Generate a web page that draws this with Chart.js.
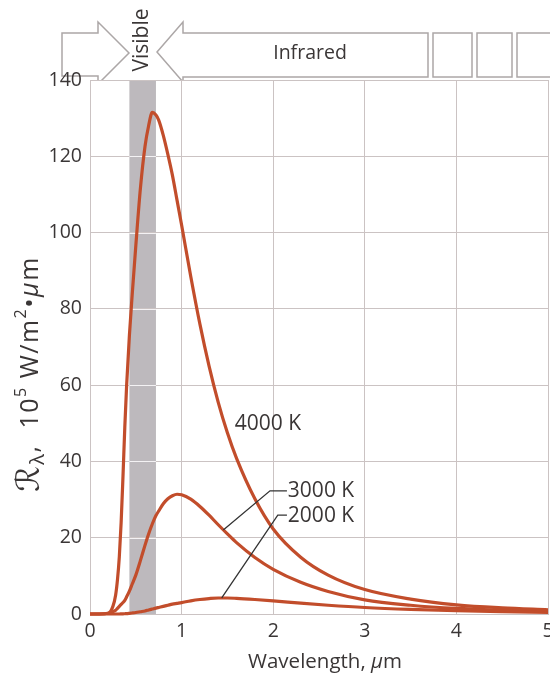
<!DOCTYPE html>
<html>
<head>
<meta charset="utf-8">
<script src="https://cdn.jsdelivr.net/npm/chart.js@4"></script>
<style>
  html, body { margin: 0; padding: 0; background: #fff; }
  #wrap { width: 550px; height: 674px; }
</style>
</head>
<body>
<div id="wrap"><canvas id="myChart" width="550" height="674"></canvas></div>
<script>
// wavelength in micrometres
var wavelength = [0, 0.1, 0.2, 0.25, 0.28, 0.3, 0.32, 0.34, 0.36, 0.38, 0.4, 0.43, 0.46, 0.5, 0.55, 0.6,
  0.64, 0.68, 0.72, 0.75, 0.8, 0.85, 0.9, 0.95, 1.0, 1.1, 1.2, 1.3, 1.4, 1.5, 1.6, 1.8, 2.0, 2.3, 2.6,
  3.0, 3.5, 4.0, 4.5, 5.0];

// radiancy, 10^5 W/m^2.um
var r4000 = [0, 0, 0.2, 2, 5, 9, 15, 24, 36, 49, 60, 73, 83.5, 96.5, 111.5, 122.5,
  128, 131.5, 130.8, 129.5, 125.5, 120.5, 115, 108.5, 102, 88.5, 76, 65, 55.5, 47.5, 40.8, 30.2, 22.3, 14.9, 10.2,
  6.4, 3.9, 2.4, 1.6, 1.1];
var r3000 = [0, 0, 0.2, 0.6, 1.0, 1.5, 2.0, 2.5, 3.0, 3.6, 4.5, 6.0, 7.8, 10.2, 14, 18,
  21, 23.6, 25.8, 27.0, 28.9, 30.2, 31.0, 31.4, 31.25, 30.1, 28.2, 25.9, 23.4, 21, 18.7, 14.8, 11.7, 8.3, 5.9,
  3.7, 2.3, 1.45, 1.0, 0.7];
var r2000 = [0, 0, 0, 0, 0, 0, 0, 0.02, 0.04, 0.07, 0.1, 0.18, 0.27, 0.4, 0.6, 0.8,
  1.05, 1.3, 1.55, 1.72, 2.0, 2.3, 2.6, 2.8, 3.0, 3.45, 3.8, 4.05, 4.2, 4.2, 4.1, 3.8, 3.45, 2.85, 2.3,
  1.7, 1.2, 0.85, 0.62, 0.45];

var xTicks = [0, 1, 2, 3, 4, 5];
var yTicks = [0, 20, 40, 60, 80, 100, 120, 140];
var visibleBand = [0.43, 0.72];

var curveColor = "#c24d2b";
var textColor = "#3a3636";
var gridColor = "#cbc3c3";
var fontName = "'Open Sans', 'Noto Sans', sans-serif";

function toPoints(ys) {
  var pts = [];
  for (var i = 0; i < wavelength.length; i++) {
    pts.push({ x: wavelength[i], y: ys[i] });
  }
  return pts;
}

// curve labels and leader lines, in data units
var labels = [
  { text: "4000 K", at: [1.58, 49.7], leader: null },
  { text: "3000 K", at: [2.16, 32.2], leader: [[1.455, 22.0], [1.965, 32.3], [2.15, 32.3]] },
  { text: "2000 K", at: [2.16, 25.7], leader: [[1.438, 4.2], [2.05, 25.9], [2.15, 25.9]] }
];

function drawRuns(ctx, runs, x, y) {
  // runs: [text, font, dy]
  var w = 0;
  runs.forEach(function(r) { ctx.font = r[1]; w += ctx.measureText(r[0]).width; });
  var cx = x - w / 2;
  runs.forEach(function(r) {
    ctx.font = r[1];
    ctx.fillText(r[0], cx, y + (r[2] || 0));
    cx += ctx.measureText(r[0]).width;
  });
}

var decor = {
  id: "decor",
  beforeDraw: function(chart) {
    var ctx = chart.ctx;
    var a = chart.chartArea;
    var xs = chart.scales.x;
    ctx.save();
    ctx.fillStyle = "#fff";
    ctx.fillRect(0, 0, chart.width, chart.height);

    // banner at the top
    ctx.beginPath();
    ctx.rect(0, 0, chart.width, a.top);
    ctx.clip();
    ctx.strokeStyle = "#aca7a7";
    ctx.lineWidth = 1.5;
    ctx.fillStyle = "#fff";
    ctx.beginPath();
    ctx.moveTo(62, 33); ctx.lineTo(98, 33); ctx.lineTo(98, 22); ctx.lineTo(129, 53);
    ctx.lineTo(98, 84); ctx.lineTo(98, 76); ctx.lineTo(62, 76); ctx.closePath();
    ctx.fill(); ctx.stroke();
    ctx.beginPath();
    ctx.moveTo(428, 33); ctx.lineTo(183, 33); ctx.lineTo(183, 22); ctx.lineTo(157, 52);
    ctx.lineTo(183, 82); ctx.lineTo(183, 77); ctx.lineTo(428, 77); ctx.closePath();
    ctx.fill(); ctx.stroke();
    ctx.strokeRect(433, 33, 39, 44);
    ctx.strokeRect(477, 33, 35, 44);
    ctx.strokeRect(517, 33, 40, 44);
    ctx.restore();

    // visible band
    ctx.save();
    var x0 = xs.getPixelForValue(visibleBand[0]);
    var x1 = xs.getPixelForValue(visibleBand[1]);
    ctx.fillStyle = "#bdb9bd";
    ctx.fillRect(x0, a.top, x1 - x0, a.bottom - a.top);
    ctx.restore();
  },
  beforeDatasetsDraw: function(chart) {
    var ctx = chart.ctx;
    var xs = chart.scales.x, ys = chart.scales.y;
    var x0 = xs.getPixelForValue(visibleBand[0]);
    var x1 = xs.getPixelForValue(visibleBand[1]);
    ctx.save();
    ctx.strokeStyle = "#f4f2f4";
    ctx.lineWidth = 1;
    yTicks.slice(1, -1).forEach(function(v) {
      var y = Math.round(ys.getPixelForValue(v)) + 0.5;
      ctx.beginPath(); ctx.moveTo(x0, y); ctx.lineTo(x1, y); ctx.stroke();
    });
    ctx.restore();
  },
  afterDraw: function(chart) {
    var ctx = chart.ctx;
    var xs = chart.scales.x, ys = chart.scales.y;
    ctx.save();
    ctx.fillStyle = textColor;
    ctx.textBaseline = "middle";

    // banner text
    ctx.font = "19.5px " + fontName;
    ctx.textAlign = "center";
    ctx.fillText("Infrared", 310, 53);
    ctx.save();
    ctx.translate(142, 40);
    ctx.rotate(-Math.PI / 2);
    ctx.font = "21px " + fontName;
    ctx.fillText("Visible", 0, 0);
    ctx.restore();

    // curve labels
    ctx.textAlign = "left";
    labels.forEach(function(l) {
      ctx.font = "21px " + fontName;
      ctx.fillText(l.text, xs.getPixelForValue(l.at[0]), ys.getPixelForValue(l.at[1]));
      if (l.leader) {
        ctx.strokeStyle = "#333";
        ctx.lineWidth = 1.3;
        ctx.beginPath();
        l.leader.forEach(function(p, i) {
          var px = xs.getPixelForValue(p[0]), py = ys.getPixelForValue(p[1]);
          if (i === 0) ctx.moveTo(px, py); else ctx.lineTo(px, py);
        });
        ctx.stroke();
      }
    });

    // axis titles
    ctx.textAlign = "left";
    drawRuns(ctx, [
      ["Wavelength, ", "20.5px " + fontName],
      ["\u03bc", "italic 20.5px " + fontName],
      ["m", "20.5px " + fontName]
    ], 325, 662);

    ctx.save();
    ctx.translate(31, 374);
    ctx.rotate(-Math.PI / 2);
    ctx.letterSpacing = "1.5px";
    drawRuns(ctx, [
      ["\u211b", "italic 32px 'DejaVu Serif', 'DejaVu Sans', serif"],
      ["\u03bb", "20px " + fontName, 7],
      [",  10", "25px " + fontName],
      ["5", "16px " + fontName, -10],
      [" W/m", "25px " + fontName],
      ["2", "16px " + fontName, -10],
      ["\u2022", "25px " + fontName],
      ["\u03bc", "italic 25px " + fontName],
      ["m", "25px " + fontName]
    ], 0, 0);
    ctx.restore();

    ctx.restore();
  }
};

function series(ys) {
  return {
    data: toPoints(ys),
    borderColor: curveColor,
    borderWidth: 3.2,
    pointRadius: 0,
    fill: false,
    cubicInterpolationMode: "monotone",
    clip: false
  };
}

function noPadX(s) { s.height = 60; s.paddingLeft = 0; s.paddingRight = 0; }
function noPadY(s) { s.width = 90; s.paddingTop = 0; s.paddingBottom = 0; }

var ctx = document.getElementById("myChart");
var chart = new Chart(ctx, {
  type: "line",
  data: { datasets: [series(r4000), series(r3000), series(r2000)] },
  options: {
    responsive: false,
    animation: false,
    events: [],
    layout: { padding: { top: 80, right: 2, left: 0, bottom: 0 } },
    plugins: { legend: { display: false }, tooltip: { enabled: false } },
    scales: {
      x: {
        type: "linear",
        min: 0,
        max: 5,
        afterFit: noPadX,
        afterBuildTicks: function(s) { s.ticks = xTicks.map(function(v) { return { value: v }; }); },
        grid: { color: gridColor, lineWidth: 1, drawTicks: false },
        border: { color: gridColor },
        ticks: { color: textColor, font: { family: fontName, size: 19.5 }, padding: 6, maxRotation: 0 }
      },
      y: {
        min: 0,
        max: 140,
        afterFit: noPadY,
        afterBuildTicks: function(s) { s.ticks = yTicks.map(function(v) { return { value: v }; }); },
        grid: { color: gridColor, lineWidth: 1, drawTicks: false },
        border: { color: gridColor },
        ticks: { color: textColor, font: { family: fontName, size: 19.5 }, padding: 8 }
      }
    }
  },
  plugins: [decor]
});
</script>
</body>
</html>
